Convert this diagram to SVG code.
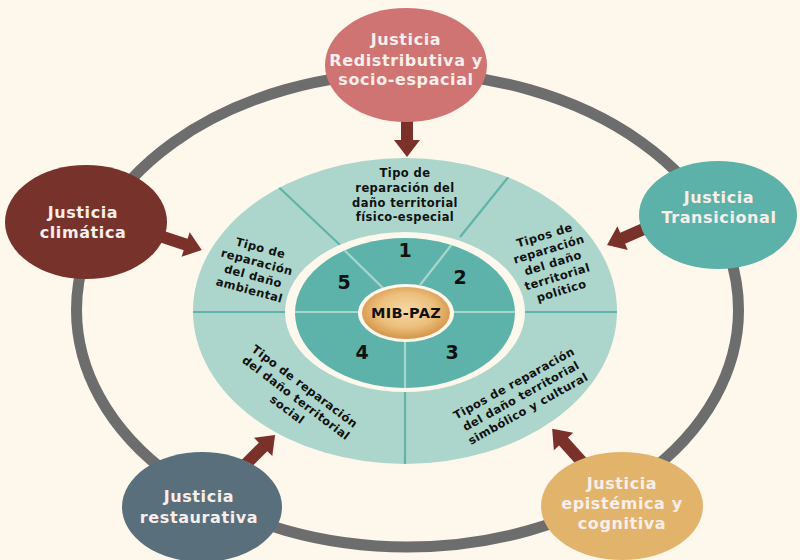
<svg xmlns="http://www.w3.org/2000/svg" width="800" height="560" viewBox="0 0 800 560">
<defs>
<style>
.bg{fill:#fdf7ec}
.ring{fill:none;stroke:#6d6d6d;stroke-width:11}
.lab{font-family:"DejaVu Sans",sans-serif;font-weight:bold;font-size:11.5px;letter-spacing:0.4px;fill:#111;text-anchor:middle;dominant-baseline:central}
.num{font-family:"DejaVu Sans",sans-serif;font-weight:bold;font-size:19px;fill:#111;text-anchor:middle;dominant-baseline:central}
.nt{font-family:"DejaVu Sans",sans-serif;font-weight:bold;font-size:16px;letter-spacing:0.6px;fill:#f8eeea;text-anchor:middle;dominant-baseline:central}
.ol{stroke:#5fb3a8;stroke-width:2.2}
.il{stroke:#a9d6cc;stroke-width:2.2}
.arr{fill:#7a3129}
</style>
<radialGradient id="gold" cx="50%" cy="45%" r="55%">
<stop offset="0" stop-color="#f6d9a4"/>
<stop offset="0.6" stop-color="#ecbf7c"/>
<stop offset="1" stop-color="#d49448"/>
</radialGradient>
<clipPath id="outerClip"><ellipse cx="405" cy="311" rx="212" ry="153"/></clipPath>
<clipPath id="innerClip"><ellipse cx="405" cy="313" rx="110" ry="75"/></clipPath>
</defs>
<rect class="bg" x="0" y="0" width="800" height="560"/>
<ellipse class="ring" cx="407.5" cy="310" rx="331" ry="237"/>
<g id="core">
<ellipse cx="405" cy="311" rx="212" ry="153" fill="#acd6cc"/>
<g clip-path="url(#outerClip)">
<line class="ol" x1="268" y1="177" x2="340" y2="245"/>
<line class="ol" x1="518" y1="165" x2="460" y2="237"/>
<line class="ol" x1="190" y1="312" x2="300" y2="312"/>
<line class="ol" x1="510" y1="312" x2="620" y2="312"/>
<line class="ol" x1="405" y1="380" x2="405" y2="470"/>
</g>
<ellipse cx="405" cy="312" rx="120" ry="80" fill="#fdf7ec"/>
<ellipse cx="405" cy="313" rx="110" ry="75" fill="#5db3a9"/>
<g clip-path="url(#innerClip)">
<line class="il" x1="335" y1="241" x2="385" y2="290"/>
<line class="il" x1="460" y1="234" x2="420" y2="285"/>
<line class="il" x1="290" y1="312" x2="370" y2="312"/>
<line class="il" x1="440" y1="312" x2="520" y2="312"/>
<line class="il" x1="405" y1="330" x2="405" y2="392"/>
</g>
<ellipse cx="406" cy="313" rx="48" ry="29" fill="#fdf7ec"/>
<ellipse cx="406" cy="313" rx="44" ry="26" fill="url(#gold)"/>
<text class="nt" x="406" y="313" style="fill:#111;font-size:14.5px;letter-spacing:0.3px">MIB-PAZ</text>
<text class="num" x="405" y="250">1</text>
<text class="num" x="460" y="277">2</text>
<text class="num" x="452" y="352">3</text>
<text class="num" x="362" y="352">4</text>
<text class="num" x="344" y="282">5</text>
<text class="lab"><tspan x="405" y="173">Tipo de</tspan><tspan x="405" y="188">reparación del</tspan><tspan x="405" y="202.5">daño territorial</tspan><tspan x="405" y="217">físico-especial</tspan></text>
<text class="lab" transform="translate(553,263) rotate(-17)"><tspan x="0" y="-29">Tipos de</tspan><tspan x="0" y="-14.5">reparación</tspan><tspan x="0" y="0">del daño</tspan><tspan x="0" y="14.5">territorial</tspan><tspan x="0" y="29">político</tspan></text>
<text class="lab" transform="translate(255,269) rotate(15)"><tspan x="0" y="-21.75">Tipo de</tspan><tspan x="0" y="-7.25">reparación</tspan><tspan x="0" y="7.25">del daño</tspan><tspan x="0" y="21.75">ambiental</tspan></text>
<text class="lab" transform="translate(296,398) rotate(37)"><tspan x="0" y="-14.5">Tipo de reparación</tspan><tspan x="0" y="0">del daño territorial</tspan><tspan x="0" y="14.5">social</tspan></text>
<text class="lab" transform="translate(521,396) rotate(-29)"><tspan x="0" y="-14.5">Tipos de reparación</tspan><tspan x="0" y="0">del daño territorial</tspan><tspan x="0" y="14.5">simbólico y cultural</tspan></text>
</g>
<g id="connectors">
<polygon class="arr" points="0,-6 20,-6 20,-13 37,0 20,13 20,6 0,6" transform="translate(407,120) rotate(90)"/>
<polygon class="arr" points="0,-6 27,-6 27,-13 44,0 27,13 27,6 0,6" transform="translate(160,236) rotate(18.4)"/>
<polygon class="arr" points="0,-6 25.5,-6 25.5,-13 42.5,0 25.5,13 25.5,6 0,6" transform="translate(646,228) rotate(156.4)"/>
<polygon class="arr" points="0,-6 27,-6 27,-13 44,0 27,13 27,6 0,6" transform="translate(244,466) rotate(-45)"/>
<polygon class="arr" points="0,-6 27.6,-6 27.6,-13 44.6,0 27.6,13 27.6,6 0,6" transform="translate(582,462) rotate(-132)"/>
</g>
<g id="node-redistributiva">
<ellipse cx="406" cy="65" rx="81" ry="57" fill="#d07373"/>
<text class="nt"><tspan x="406" y="39">Justicia</tspan><tspan x="406" y="59.5">Redistributiva y</tspan><tspan x="406" y="79">socio-espacial</tspan></text>
</g>
<g id="node-climatica">
<ellipse cx="86" cy="222" rx="81" ry="57" fill="#77332b"/>
<text class="nt"><tspan x="83" y="212">Justicia</tspan><tspan x="83" y="232">climática</tspan></text>
</g>
<g id="node-transicional">
<ellipse cx="718" cy="215" rx="79" ry="54" fill="#5cb2a8"/>
<text class="nt"><tspan x="719" y="197">Justicia</tspan><tspan x="719" y="217">Transicional</tspan></text>
</g>
<g id="node-restaurativa">
<ellipse cx="202" cy="507" rx="80" ry="55" fill="#5a6f7c"/>
<text class="nt"><tspan x="199" y="496">Justicia</tspan><tspan x="199" y="517">restaurativa</tspan></text>
</g>
<g id="node-epistemica">
<ellipse cx="622" cy="506" rx="81" ry="54" fill="#e2b46b"/>
<text class="nt"><tspan x="622" y="483">Justicia</tspan><tspan x="622" y="503">epistémica y</tspan><tspan x="622" y="523">cognitiva</tspan></text>
</g>
</svg>
